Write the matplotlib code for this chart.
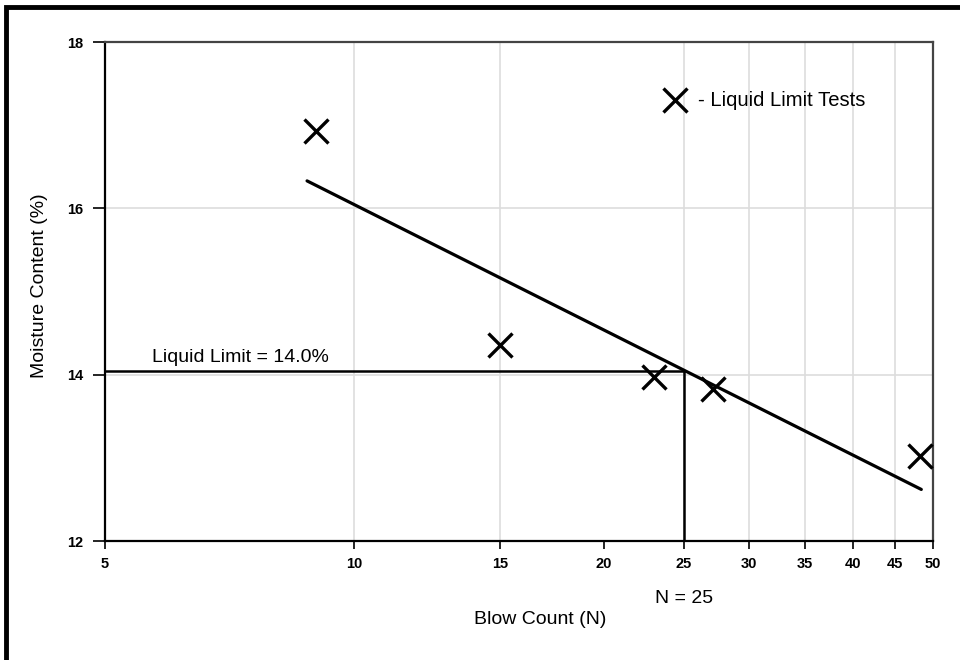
import matplotlib

matplotlib.use("Agg")
import matplotlib.pyplot as plt
from matplotlib.patches import Rectangle
from matplotlib.ticker import FixedLocator, NullLocator

plt.rcParams["font.family"] = ["Liberation Sans", "DejaVu Sans"]

# liquid limit test results
blow_count = [9.0, 15.0, 23.0, 27.1, 48.2]
moisture = [16.93, 14.36, 13.97, 13.83, 13.02]

# best-fit flow line (end points) and liquid limit reading
fit_n = [8.77, 48.4]
fit_w = [16.33, 12.62]
ll_n = 25
ll_w = 14.05

x_ticks = [5, 10, 15, 20, 25, 30, 35, 40, 45, 50]
x_grid = [10, 15, 25, 30, 35, 40, 45]
y_ticks = [12, 14, 16, 18]

fig = plt.figure(figsize=(9.6, 6.6), dpi=100)
ax = fig.add_axes([105 / 960, 1 - 541 / 660, 828 / 960, 499 / 660])

ax.set_xscale("log")
ax.set_xlim(5, 50)
ax.set_ylim(12, 18)

for n in x_grid:
    ax.axvline(n, color="#dddddd", lw=1.2, zorder=0)
for w in (14, 16):
    ax.axhline(w, color="#dddddd", lw=1.2, zorder=0)

ax.plot(fit_n, fit_w, color="black", lw=2.3, solid_capstyle="round", zorder=3)
ax.plot([5, ll_n], [ll_w, ll_w], color="black", lw=1.8, zorder=3)
ax.plot([ll_n, ll_n], [12, ll_w], color="black", lw=1.8, zorder=3)
ax.plot(blow_count, moisture, ls="none", marker="x", ms=17, mew=2.4,
        color="black", zorder=4, clip_on=False)

ax.text(0.057, 14.15, "Liquid Limit = 14.0%", transform=ax.get_yaxis_transform(),
        fontsize=14, va="baseline", ha="left")
ax.plot([24.4], [17.3], ls="none", marker="x", ms=17, mew=2.4, color="black", zorder=4)
ax.text(26.0, 17.3, "- Liquid Limit Tests", fontsize=14.6, va="center", ha="left")

ax.xaxis.set_major_locator(FixedLocator(x_ticks))
ax.xaxis.set_minor_locator(NullLocator())
ax.set_xticklabels([str(t) for t in x_ticks])
ax.set_yticks(y_ticks)
ax.tick_params(axis="x", length=6, width=1.2, direction="out", labelsize=10.5, pad=5.5)
ax.tick_params(axis="y", length=8.6, width=1.2, direction="out", labelsize=10.5, pad=7)
for lbl in ax.get_xticklabels() + ax.get_yticklabels():
    lbl.set_fontweight("bold")

for side in ("left", "bottom"):
    ax.spines[side].set_linewidth(1.6)
    ax.spines[side].set_color("black")
for side in ("top", "right"):
    ax.spines[side].set_linewidth(1.6)
    ax.spines[side].set_color("#444444")

fig.text(540 / 960, 1 - 620 / 660, "Blow Count (N)", fontsize=14, ha="center", va="center")
fig.text(40 / 960, 1 - 286 / 660, "Moisture Content (%)", fontsize=14,
         ha="center", va="center", rotation=90)
ax.text(ll_n, -0.115, "N = 25", transform=ax.get_xaxis_transform(), fontsize=14,
        ha="center", va="center")

fig.patches.append(Rectangle((6 / 960, -0.05), 1.2, 1 - 7 / 660 + 0.05,
                             transform=fig.transFigure, fill=False,
                             edgecolor="black", lw=3.5))

fig.savefig("out.png", dpi=100)
